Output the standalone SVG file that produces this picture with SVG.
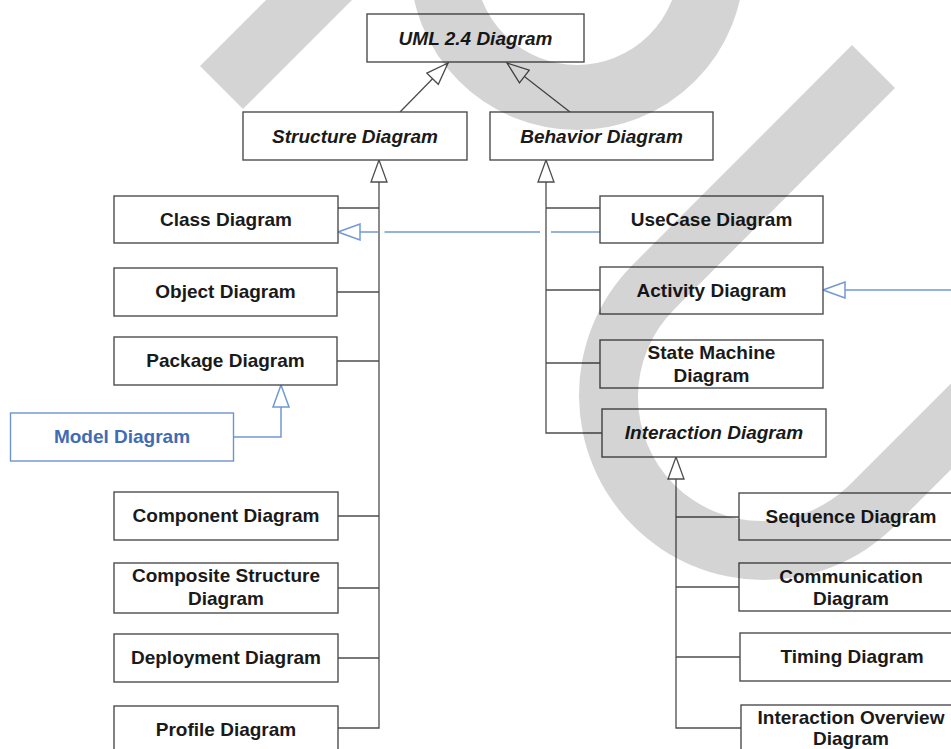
<svg xmlns="http://www.w3.org/2000/svg" width="951" height="749" viewBox="0 0 951 749">
  <style>
    .box { fill: #ffffff; stroke: #4d4d4d; stroke-width: 1.4; }
    .box-blue { fill: #ffffff; stroke: #6d94cf; stroke-width: 1.4; }
    .lbl { font-family: "Liberation Sans", Arial, sans-serif; font-size: 19px; font-weight: bold; fill: #1a1a1a; text-anchor: middle; }
    .abs { font-style: italic; }
    .lbl-blue { fill: #3f6cb5; }
    .edge { fill: none; stroke: #4d4d4d; stroke-width: 1.3; }
    .edge-blue { fill: none; stroke: #7099d4; stroke-width: 1.5; }
    .shade { fill: #000000; fill-opacity: 0.17; }
    .shade-ring { fill: none; stroke: #000000; stroke-opacity: 0.17; stroke-width: 65; }
  </style>
  <defs>
    <marker id="gen" viewBox="0 0 24 18" refX="23" refY="9" markerWidth="24" markerHeight="18" markerUnits="userSpaceOnUse" orient="auto">
      <path d="M23,9 L1,1 L1,17 Z" fill="#ffffff" stroke="#4d4d4d" stroke-width="1.3"/>
    </marker>
    <marker id="gen-blue" viewBox="0 0 24 18" refX="23" refY="9" markerWidth="24" markerHeight="18" markerUnits="userSpaceOnUse" orient="auto">
      <path d="M23,9 L1,1 L1,17 Z" fill="#ffffff" stroke="#7099d4" stroke-width="1.5"/>
    </marker>
  </defs>

  <rect width="951" height="749" fill="#ffffff"/>

  <!-- generalization connectors -->
  <g id="connectors">
    <path class="edge" d="M400,112 L448,63" marker-end="url(#gen)"/>
    <path class="edge" d="M570,112 L507,63" marker-end="url(#gen)"/>

    <!-- structure trunk -->
    <path class="edge" d="M338,728 H379 V160" marker-end="url(#gen)"/>
    <path class="edge" d="M338,208 H379 M337,292 H379 M337,361 H379 M338,516 H379 M338,588 H379 M338,658 H379"/>

    <!-- behavior trunk -->
    <path class="edge" d="M602,433 H546 V160" marker-end="url(#gen)"/>
    <path class="edge" d="M600,208 H546 M600,290 H546 M600,363 H546"/>

    <!-- interaction trunk -->
    <path class="edge" d="M742,728 H676 V457" marker-end="url(#gen)"/>
    <path class="edge" d="M739,517 H676 M739,587 H676 M740,657 H676"/>

    <!-- cross-hierarchy links -->
    <path class="edge-blue" d="M233,437 H281 V385" marker-end="url(#gen-blue)"/>
    <path class="edge-blue" d="M600,232 H551 M540,232 H384.5 M378.5,232 H338" marker-end="url(#gen-blue)"/>
    <path class="edge-blue" d="M960,290 H823" marker-end="url(#gen-blue)"/>
  </g>

  <g id="uml">
    <rect class="box" x="367" y="14" width="217" height="48"/>
    <text class="lbl abs" x="475.5" y="45">UML 2.4 Diagram</text>
  </g>
  <g id="structure">
    <rect class="box" x="243" y="112" width="224" height="48"/>
    <text class="lbl abs" x="355" y="143">Structure Diagram</text>
  </g>
  <g id="behavior">
    <rect class="box" x="490" y="112" width="223" height="48"/>
    <text class="lbl abs" x="601.5" y="143">Behavior Diagram</text>
  </g>

  <g id="class">
    <rect class="box" x="114" y="196" width="224" height="47"/>
    <text class="lbl" x="226" y="226">Class Diagram</text>
  </g>
  <g id="object">
    <rect class="box" x="114" y="268" width="223" height="48"/>
    <text class="lbl" x="225.5" y="298">Object Diagram</text>
  </g>
  <g id="package">
    <rect class="box" x="114" y="337" width="223" height="48"/>
    <text class="lbl" x="225.5" y="367">Package Diagram</text>
  </g>
  <g id="model">
    <rect class="box-blue" x="10.5" y="413" width="223" height="48"/>
    <text class="lbl lbl-blue" x="122" y="443">Model Diagram</text>
  </g>
  <g id="component">
    <rect class="box" x="114" y="492" width="224" height="48"/>
    <text class="lbl" x="226" y="522">Component Diagram</text>
  </g>
  <g id="composite">
    <rect class="box" x="114" y="563" width="224" height="50"/>
    <text class="lbl" x="226" y="582">Composite Structure</text>
    <text class="lbl" x="226" y="605">Diagram</text>
  </g>
  <g id="deployment">
    <rect class="box" x="114" y="634" width="224" height="48"/>
    <text class="lbl" x="226" y="664">Deployment Diagram</text>
  </g>
  <g id="profile">
    <rect class="box" x="114" y="706" width="224" height="60"/>
    <text class="lbl" x="226" y="736">Profile Diagram</text>
  </g>

  <g id="usecase">
    <rect class="box" x="600" y="196" width="223" height="47"/>
    <text class="lbl" x="711.5" y="226">UseCase Diagram</text>
  </g>
  <g id="activity">
    <rect class="box" x="600" y="267" width="223" height="47"/>
    <text class="lbl" x="711.5" y="297">Activity Diagram</text>
  </g>
  <g id="statemachine">
    <rect class="box" x="600" y="340" width="223" height="48"/>
    <text class="lbl" x="711.5" y="359">State Machine</text>
    <text class="lbl" x="711.5" y="382">Diagram</text>
  </g>
  <g id="interaction">
    <rect class="box" x="602" y="409" width="224" height="48"/>
    <text class="lbl abs" x="714" y="439">Interaction Diagram</text>
  </g>

  <g id="sequence">
    <rect class="box" x="739" y="493" width="224" height="47"/>
    <text class="lbl" x="851" y="523">Sequence Diagram</text>
  </g>
  <g id="communication">
    <rect class="box" x="739" y="563" width="224" height="48"/>
    <text class="lbl" x="851" y="583">Communication</text>
    <text class="lbl" x="851" y="605">Diagram</text>
  </g>
  <g id="timing">
    <rect class="box" x="740" y="633" width="224" height="48"/>
    <text class="lbl" x="852" y="663">Timing Diagram</text>
  </g>
  <g id="overview">
    <rect class="box" x="741" y="705" width="224" height="60"/>
    <text class="lbl" x="851" y="724">Interaction Overview</text>
    <text class="lbl" x="851" y="745">Diagram</text>
  </g>

  <!-- translucent grey strokes laid over the drawing -->
  <g id="overlay">
    <polygon class="shade" points="200,66 320,-54 406,-54 243,109"/>
    <circle class="shade-ring" cx="577" cy="-37" r="134.5"/>
    <path class="shade" d="M852,45 L631.2,266.2 A185,185 0 0 0 892.8,527.8 L1112.8,307.8 L1069.7,264.7 L849.7,484.7 A124,124 0 0 1 674.3,309.3 L895,88 Z"/>
  </g>
</svg>
